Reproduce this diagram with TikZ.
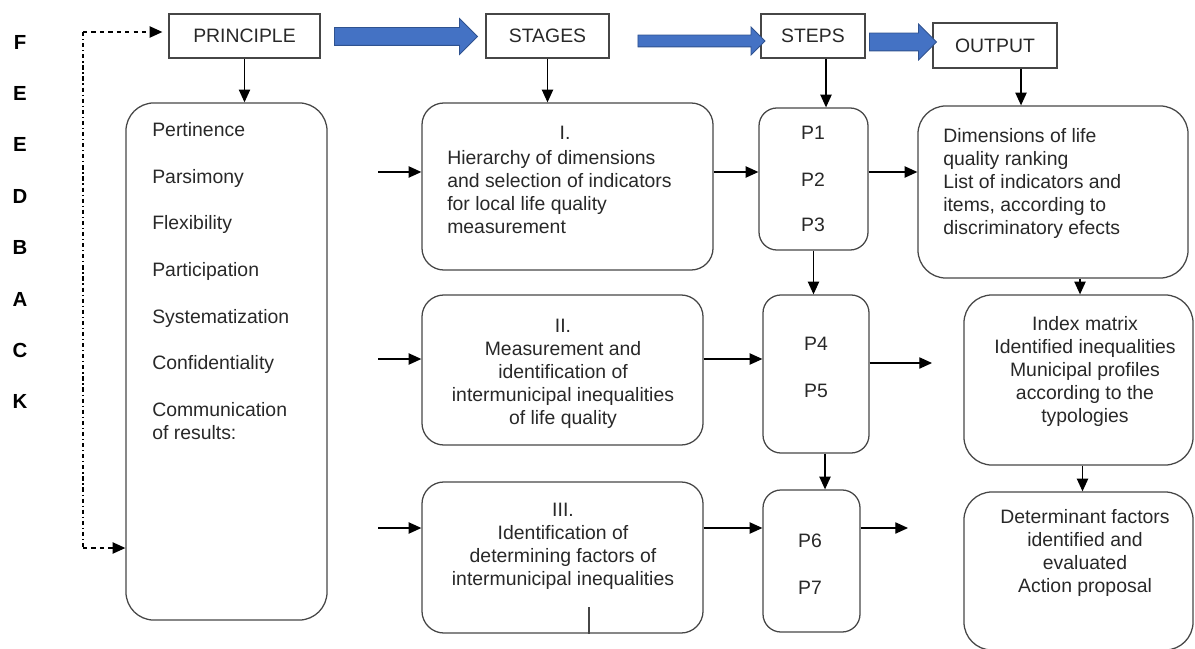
\documentclass[tikz,border=0pt]{standalone}
\usepackage{fontspec}
\setmainfont{Liberation Sans}
\definecolor{arrowblue}{RGB}{68,114,196}
\definecolor{arrowedge}{RGB}{47,82,143}
\definecolor{boxgray}{RGB}{70,70,70}
\definecolor{textgray}{RGB}{40,40,40}
\usetikzlibrary{arrows.meta,shapes.arrows}

\begin{document}
\begin{tikzpicture}[x=0.025cm,y=-0.025cm,
    txt/.style={inner sep=0pt,text=textgray,font=\fontsize{13.8}{16.4}\selectfont},
    headbox/.style={txt,draw=boxgray,line width=0.9pt,minimum height=1.1cm},
    roundbox/.style={draw=boxgray,line width=0.9pt,rounded corners=#1},
    roundbox/.default=0.55cm,
    arr/.style={-{Triangle[length=9pt,width=8pt]},line width=0.9pt},
    bigarrow/.style={single arrow,fill=arrowblue,draw=arrowedge,line width=0.6pt,
      single arrow tip angle=90}]
  \useasboundingbox (0,0) rectangle (1195,649);
  % header row
  \node[headbox,minimum width=3.775cm] (principle) at (244.5,36) {PRINCIPLE};
  \node[headbox,minimum width=3.075cm] (stages) at (547.5,36) {STAGES};
  \node[headbox,minimum width=2.6cm] (steps) at (813,36) {STEPS};
  \node[headbox,minimum width=3.1cm,minimum height=1.125cm] (output) at (995,45.5) {OUTPUT};
  \node[bigarrow,inner xsep=0pt,inner ysep=0.2125cm,single arrow head extend=0.225cm,
    minimum height=3.575cm] (toStages) at (401.5,36.5) {};
  \node[bigarrow,inner xsep=0pt,inner ysep=0.1375cm,single arrow head extend=0.2cm,
    minimum height=3.175cm] (toSteps) at (698.5,41) {};
  \node[bigarrow,inner xsep=0pt,inner ysep=0.2125cm,single arrow head extend=0.225cm,
    minimum height=1.675cm] (toOutput) at (898.5,42) {};
  % feedback
  \foreach \letter [count=\i from 0] in {F,E,E,D,B,A,C,K}
    \node[txt,text=black,font=\fontsize{14.5}{16}\selectfont\bfseries] (fb\i) at (20,42+51.4*\i) {\letter};
  % boxes
  \node[roundbox=0.7cm,minimum width=5.025cm,minimum height=12.925cm] (principles) at (226.5,361.5) {};
  \node[roundbox,minimum width=7.275cm,minimum height=4.175cm] (stage1) at (567.5,186.5) {};
  \node[roundbox,minimum width=7.025cm,minimum height=3.75cm] (stage2) at (562.5,370) {};
  \node[roundbox,minimum width=7.025cm,minimum height=3.775cm] (stage3) at (562.5,557.5) {};
  \node[roundbox=0.45cm,minimum width=2.725cm,minimum height=3.55cm] (stepsI) at (813.5,179) {};
  \node[roundbox=0.45cm,minimum width=2.65cm,minimum height=3.95cm] (stepsII) at (816,374) {};
  \node[roundbox=0.45cm,minimum width=2.425cm,minimum height=3.55cm] (stepsIII) at (811.5,561) {};
  \node[roundbox=0.7cm,minimum width=6.75cm,minimum height=4.3cm] (out1) at (1053,192) {};
  \node[roundbox=0.7cm,minimum width=5.725cm,minimum height=4.25cm] (out2) at (1078.5,380) {};
  \node[roundbox=0.7cm,minimum width=5.725cm,minimum height=3.95cm] (out3) at (1078.5,571) {};
  % texts
  \foreach \name/\y [count=\i] in {Pertinence/137,Parsimony/184,Flexibility/230,Participation/277,
      Systematization/323,Confidentiality/369,Communication/416,of results:/439}
    \node[txt,anchor=base west] (item\i) at (152,\y) {\name};
  \node[txt,anchor=base] (s1num) at (565,140) {I.};
  \node[txt,anchor=north west,align=left] (s1txt) at (447,150)
    {Hierarchy of dimensions\\and selection of indicators\\for local life quality\\measurement};
  \node[txt,anchor=north,align=center] (s2txt) at (563,319)
    {II.\\Measurement and\\identification of\\intermunicipal inequalities\\of life quality};
  \node[txt,anchor=north,align=center] (s3txt) at (563,503)
    {III.\\Identification of\\determining factors of\\intermunicipal inequalities};
  \foreach \n/\x/\y in {1/813/140,2/813/187,3/813/232,4/816/350,5/816/397,6/810/547,7/810/594}
    \node[txt,anchor=base] (p\n) at (\x,\y) {P\n};
  \node[txt,anchor=north west,align=left] (o1txt) at (943,128)
    {Dimensions of life\\quality ranking\\List of indicators and\\items, according to\\discriminatory efects};
  \node[txt,anchor=north,align=center] (o2txt) at (1085,316)
    {Index matrix\\Identified inequalities\\Municipal profiles\\according to the\\typologies};
  \node[txt,anchor=north,align=center] (o3txt) at (1085,509)
    {Determinant factors\\identified and\\evaluated\\Action proposal};
  % feedback line
  \coordinate (fbtop) at (83,32);
  \coordinate (fbbot) at (83,548);
  \draw[arr,dashed] (fbtop) -- ([xshift=-0.15cm]fbtop -| principle.west);
  \draw[line width=0.9pt,dash dot] (fbtop) -- (fbbot);
  \draw[arr,dashed] (fbbot) -- (fbbot -| principles.west);
  % arrows down
  \draw[arr] (principle.south) -- (principle.south |- principles.north);
  \draw[arr] (stages.south) -- (stages.south |- stage1.north);
  \draw[arr] ([xshift=0.325cm]steps.south) -- ([xshift=0.325cm]steps.south |- stepsI.north);
  \draw[arr] ([xshift=0.65cm]output.south) -- ([xshift=0.65cm]output.south |- out1.north);
  \draw[arr] (stepsI.south) -- (stepsI.south |- stepsII.north);
  \draw[arr] ([xshift=0.225cm]stepsII.south) -- ([xshift=0.225cm]stepsII.south |- stepsIII.north);
  \draw[arr] ([xshift=0.675cm]out1.south) -- ([xshift=0.675cm]out1.south |- out2.north);
  \draw[arr] ([xshift=0.1cm]out2.south) -- ([xshift=0.1cm]out2.south |- out3.north);
  % rows
  \coordinate (row1) at (378,172);
  \coordinate (row2) at (378,359);
  \coordinate (row3) at (378,528);
  \coordinate (free2) at (932,363);
  \coordinate (free3) at (908,528);
  \draw[arr] (row1) -- (row1 -| stage1.west);
  \draw[arr] (row1 -| stage1.east) -- (row1 -| stepsI.west);
  \draw[arr] (row1 -| stepsI.east) -- (row1 -| out1.west);
  \draw[arr] (row2) -- (row2 -| stage2.west);
  \draw[arr] (row2 -| stage2.east) -- (row2 -| stepsII.west);
  \draw[arr] (free2 -| stepsII.east) -- (free2);
  \draw[arr] (row3) -- (row3 -| stage3.west);
  \draw[arr] (row3 -| stage3.east) -- (row3 -| stepsIII.west);
  \draw[arr] (row3 -| stepsIII.east) -- (free3);
  \coordinate (tick) at (589,607);
  \draw[line width=0.9pt,boxgray] (tick) -- (tick |- stage3.south);
\end{tikzpicture}
\end{document}
